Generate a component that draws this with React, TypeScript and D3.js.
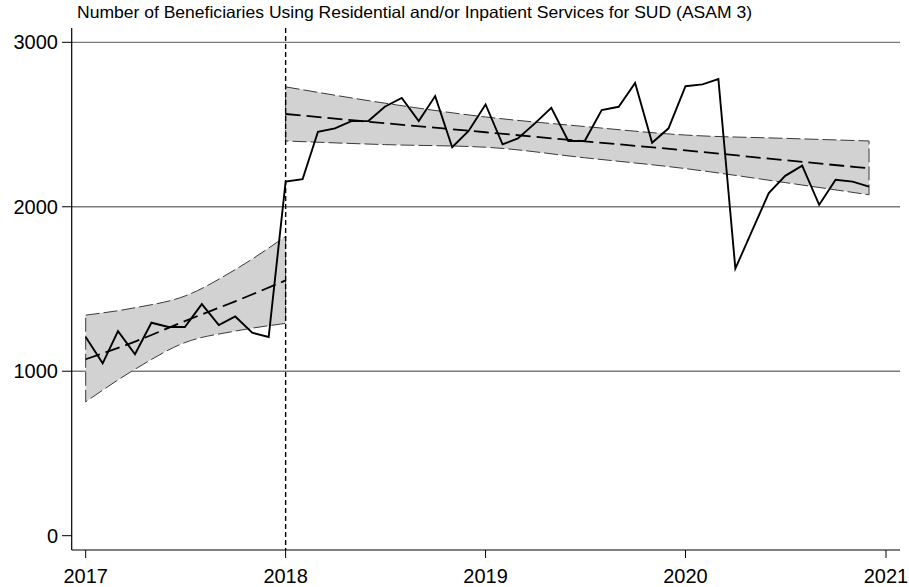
import React from "react";
import * as d3 from "d3";

const title = "Number of Beneficiaries Using Residential and/or Inpatient Services for SUD (ASAM 3)";
const yTicks = [0, 1000, 2000, 3000];
const xTickYears = [2017, 2018, 2019, 2020, 2021];
const interruptionYear = 2018;

// monthly observed counts, Jan 2017 .. Dec 2020
const observed = [
  1208, 1048, 1244, 1103, 1295, 1269, 1269, 1408, 1281, 1333, 1234, 1208,
  2153, 2168, 2456, 2477, 2521, 2521, 2608, 2662, 2521, 2673, 2362, 2461,
  2622, 2380, 2416, 2507, 2602, 2400, 2400, 2588, 2608, 2753, 2389, 2477,
  2733, 2744, 2776, 1624, 1850, 2083, 2188, 2250, 2012, 2164, 2153, 2123,
];

// fitted trend and confidence band, pre period (month index from Jan 2017)
const preMonths = [0, 3, 6, 9, 12];
const preFit = [1073, 1180, 1305, 1425, 1552];
const preUpper = [1341, 1386, 1457, 1618, 1820];
const preLower = [814, 1012, 1174, 1244, 1291];

// post period
const postMonths = [12, 18, 24, 30, 36, 42, 47];
const postFit = [2564, 2508, 2453, 2398, 2343, 2283, 2234];
const postUpper = [2729, 2630, 2546, 2488, 2436, 2416, 2400];
const postLower = [2400, 2378, 2362, 2298, 2232, 2147, 2073];

const W = 909;
const H = 587;

export default function App() {
  const x = d3
    .scaleTime()
    .domain([new Date(2017, 0, 1), new Date(2021, 0, 1)])
    .range([85.7, 886]);
  const y = d3.scaleLinear().domain([0, 3000]).range([535.7, 42.3]);
  const mDate = (m: number) => new Date(2017, m, 1);

  const plotLeft = 71.7;
  const plotRight = 900;
  const plotTop = 28;
  const plotBottom = 550;

  const obsLine = d3
    .line<number>()
    .x((_, i) => x(mDate(i)))
    .y((d) => y(d));

  const band = (months: number[], up: number[], lo: number[]) => {
    const pts = months.map((m, i) => ({ m, u: up[i], l: lo[i] }));
    return d3
      .area<{ m: number; u: number; l: number }>()
      .x((d) => x(mDate(d.m)))
      .y0((d) => y(d.l))
      .y1((d) => y(d.u))
      .curve(d3.curveMonotoneX)(pts) as string;
  };
  const curveLine = (months: number[], vals: number[]) =>
    d3
      .line<number>()
      .x((_, i) => x(mDate(months[i])))
      .y((d) => y(d))
      .curve(d3.curveMonotoneX)(vals) as string;

  const font = "'Liberation Sans', Arial, Helvetica, sans-serif";

  return (
    <svg
      width={W}
      height={H}
      style={{ position: "absolute", left: 0, top: 0, background: "#fff" }}
      fontFamily={font}
    >
      <rect x={0} y={0} width={W} height={H} fill="#fff" />
      <text x={77} y={18} fontSize={16.5} fill="#000" textLength={675} lengthAdjust="spacingAndGlyphs">
        {title}
      </text>

      {/* gridlines */}
      {yTicks
        .filter((t) => t > 0)
        .map((t) => (
          <line
            key={"g" + t}
            x1={plotLeft}
            x2={plotRight}
            y1={y(t)}
            y2={y(t)}
            stroke="#7a7a7a"
            strokeWidth={1.3}
          />
        ))}

      {/* bands */}
      <path d={band(preMonths, preUpper, preLower)} fill="#d2d2d2" stroke="#3a3a3a" strokeWidth={1} strokeDasharray="14,4" />
      <path d={band(postMonths, postUpper, postLower)} fill="#d2d2d2" stroke="#3a3a3a" strokeWidth={1} strokeDasharray="14,4" />

      {/* fitted */}
      <path d={curveLine(preMonths, preFit)} fill="none" stroke="#000" strokeWidth={1.8} strokeDasharray="15,6" />
      <path d={curveLine(postMonths, postFit)} fill="none" stroke="#000" strokeWidth={1.8} strokeDasharray="15,6" />

      {/* interruption line */}
      <line
        x1={x(new Date(interruptionYear, 0, 1))}
        x2={x(new Date(interruptionYear, 0, 1))}
        y1={plotTop}
        y2={plotBottom}
        stroke="#000"
        strokeWidth={1.4}
        strokeDasharray="5,3"
      />

      {/* observed */}
      <path d={obsLine(observed) as string} fill="none" stroke="#000" strokeWidth={1.9} strokeLinejoin="miter" />

      {/* axes */}
      <line x1={plotLeft} x2={plotLeft} y1={plotTop} y2={plotBottom} stroke="#000" strokeWidth={1.2} />
      <line x1={plotLeft} x2={plotRight} y1={plotBottom} y2={plotBottom} stroke="#000" strokeWidth={1.2} />
      {yTicks.map((t) => (
        <g key={"y" + t}>
          <line x1={62} x2={plotLeft} y1={y(t)} y2={y(t)} stroke="#000" strokeWidth={1} />
          <text x={58} y={y(t) + 7} fontSize={20} textAnchor="end" fill="#000">
            {t}
          </text>
        </g>
      ))}
      {xTickYears.map((yr) => {
        const xx = x(new Date(yr, 0, 1));
        return (
          <g key={"x" + yr}>
            <line x1={xx} x2={xx} y1={plotBottom} y2={plotBottom + 8} stroke="#000" strokeWidth={1} />
            <text x={xx} y={583} fontSize={20} textAnchor="middle" fill="#000">
              {yr}
            </text>
          </g>
        );
      })}
    </svg>
  );
}
